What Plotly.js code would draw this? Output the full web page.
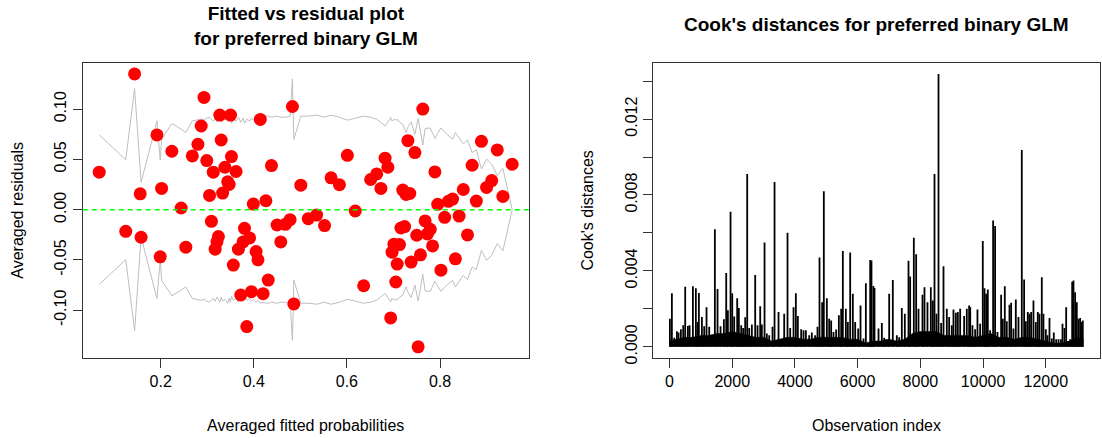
<!DOCTYPE html>
<html><head><meta charset="utf-8">
<script src="https://cdn.plot.ly/plotly-3.0.1.min.js"></script>
<style>html,body{margin:0;padding:0;background:#fff}#chart{width:1102px;height:438px}</style>
</head><body><div id="chart"></div>
<script>
// ---- Left panel: binned residual plot ----
const fittedProb = [0.068,0.125,0.144,0.156,0.158,0.192,0.199,0.202,0.224,0.244,0.254,0.268,0.280,0.287,0.293,0.299,0.305,0.309,0.313,0.317,0.321,0.324,0.327,0.330,0.333,0.338,0.344,0.347,0.350,0.352,0.356,0.362,0.367,0.372,0.377,0.380,0.385,0.391,0.395,0.399,0.405,0.409,0.414,0.420,0.426,0.431,0.438,0.450,0.458,0.468,0.478,0.483,0.486,0.501,0.517,0.535,0.552,0.566,0.584,0.601,0.618,0.636,0.651,0.664,0.673,0.682,0.688,0.694,0.697,0.701,0.705,0.708,0.713,0.716,0.720,0.724,0.727,0.731,0.735,0.738,0.746,0.750,0.753,0.758,0.763,0.768,0.773,0.779,0.784,0.789,0.795,0.802,0.810,0.818,0.827,0.833,0.841,0.850,0.859,0.869,0.878,0.889,0.900,0.911,0.923,0.935,0.955];
const avgResidual = [0.0373,-0.0215,0.135,0.0158,-0.0274,0.0743,-0.0469,0.0211,0.0581,0.0017,-0.0373,0.0535,0.065,0.0832,0.1116,0.0488,0.0142,-0.0116,0.0373,-0.0393,-0.0317,-0.0267,0.0941,0.0693,0.0165,0.0422,0.0277,0.0251,0.0941,0.0528,-0.0551,0.038,-0.0393,-0.0848,-0.032,-0.0185,-0.1162,-0.0281,-0.0815,0.0056,-0.0416,-0.0498,0.0898,-0.0835,0.0089,-0.07,0.0439,-0.0152,-0.032,-0.0145,-0.0099,0.1026,-0.0937,0.0244,-0.0089,-0.0053,-0.0158,0.0317,0.0248,0.0541,-0.0013,-0.0756,0.030,0.0356,0.0211,0.0512,0.0422,-0.1076,-0.0422,-0.0343,-0.0719,-0.0541,-0.0347,-0.0182,0.0195,-0.0168,0.0152,0.0686,0.0162,-0.0521,0.0568,-0.0254,-0.1363,-0.0449,0.100,-0.0112,-0.0241,-0.0195,-0.036,0.0376,0.0053,-0.0601,-0.0076,0.0083,0.0106,-0.0488,-0.0063,0.0201,-0.0251,0.0442,0.0086,0.068,0.0221,0.029,0.0594,0.0132,0.0452];
const bandHalfWidth = [0.0744,0.0496,0.1204,0.031,0.0272,0.0883,0.0496,0.0701,0.0857,0.080,0.0768,0.0883,0.089,0.090,0.089,0.091,0.092,0.090,0.088,0.091,0.087,0.089,0.092,0.087,0.091,0.089,0.093,0.088,0.092,0.086,0.090,0.088,0.092,0.087,0.091,0.086,0.090,0.088,0.091,0.089,0.092,0.090,0.093,0.092,0.093,0.093,0.092,0.093,0.092,0.092,0.093,0.130,0.070,0.093,0.093,0.094,0.092,0.094,0.092,0.089,0.091,0.093,0.092,0.090,0.0867,0.0833,0.087,0.0917,0.088,0.090,0.089,0.090,0.087,0.086,0.085,0.080,0.0768,0.082,0.085,0.0873,0.075,0.085,0.0907,0.078,0.0642,0.0807,0.081,0.0813,0.076,0.0708,0.076,0.0813,0.077,0.0734,0.0701,0.0768,0.071,0.0652,0.0694,0.0569,0.0595,0.0404,0.0503,0.0453,0.0337,0.041,0.000];
const residXTickVals = [0.2,0.4,0.6,0.8];
const residXTickText = ['0.2','0.4','0.6','0.8'];
const residYTickVals = [-0.10,-0.05,0.00,0.05,0.10];
const residYTickText = ['-0.10','-0.05','0.00','0.05','0.10'];

// ---- Right panel: Cook's distances ----
const nObs = 13200;
const cookIndex = [12,75,150,235,288,362,437,500,586,640,745,840,894,936,1032,1106,1180,1266,1350,1446,1531,1627,1733,1808,1861,1946,2000,2063,2158,2211,2286,2349,2413,2477,2541,2626,2732,2807,2892,2944,3030,3104,3178,
3284,3349,3476,3561,3657,3763,3848,3955,4029,4092,4198,4273,4348,4454,4538,4645,4719,4783,4868,4921,5017,5091,5155,5229,5314,5400,5474,5527,5623,5687,5761,5846,5921,6017,6091,6187,6261,6346,6399,
6440,6500,6537,6665,6771,6845,6909,7005,7121,7248,7323,7408,7504,7621,7674,7791,7865,7940,8067,8131,8226,8333,8397,8450,8514,8578,8662,8737,8843,8917,9002,9055,9130,9194,9268,9395,9480,9554,
9590,9661,9746,9820,9905,9990,10044,10097,10150,10224,10320,10383,10458,10575,10628,10692,10755,10841,10894,10968,11043,11128,11234,11308,11362,11425,11478,11532,11606,11681,11744,11798,11872,11925,12000,12053,12117,12191,12255,12330,12404,12478,12532,12595,12649,12723,12776,12840,12882,12935,12988,13041,13094,13147,13179];
const cookDistance = [0.00148,0.00282,0.00047,0.00082,0.00075,0.00092,0.00113,0.00317,0.0011,0.00113,0.00319,0.00308,0.00131,0.00284,0.00157,0.00108,0.00209,0.00105,0.00061,0.00619,0.00305,0.00108,0.00145,0.00389,0.00192,0.00711,0.00282,0.0016,0.00256,0.00204,0.00113,0.00099,0.00155,0.0091,0.00099,0.00117,0.00378,0.00113,0.00213,0.00117,0.00549,0.0007,0.00061,
0.00105,0.00868,0.00183,0.0003,0.00174,0.00601,0.00099,0.00209,0.00282,0.00162,0.00092,0.00087,0.00087,0.00061,0.00075,0.00061,0.00105,0.00471,0.00235,0.00819,0.00256,0.00148,0.00139,0.00078,0.00091,0.00166,0.002,0.00505,0.002,0.00131,0.00497,0.00279,0.00131,0.00096,0.00218,0.00044,0.00335,0.0002,0.00457,
0.00455,0.0032,0.0031,0.00096,0.00125,0.00047,0.0004,0.00279,0.00352,0.00061,0.0005,0.00204,0.00174,0.00453,0.00371,0.00575,0.00488,0.002,0.00274,0.00314,0.00235,0.00314,0.00244,0.0091,0.00174,0.01438,0.00125,0.00424,0.002,0.00157,0.00113,0.00197,0.0018,0.00183,0.002,0.00162,0.002,0.00218,
0.0021,0.00113,0.00092,0.00197,0.00122,0.00558,0.00308,0.00279,0.00302,0.00087,0.00666,0.00636,0.00078,0.00274,0.00148,0.00319,0.00134,0.00221,0.00232,0.00096,0.00249,0.00157,0.01037,0.00354,0.00134,0.00183,0.00174,0.00183,0.00244,0.00131,0.00183,0.00174,0.00366,0.00174,0.00092,0.00061,0.00152,0.00044,0.00075,0.0004,0.0004,0.0004,0.00122,0.00099,0.00209,0.0003,0.0004,0.00343,0.00349,0.00288,0.00235,0.00148,0.00152,0.00131,0.00139];
// dense lower band of small distances (upper edge of the solid black base)
const cookFloorIndex = [1,250,500,750,1000,1250,1500,1750,2000,2250,2500,2750,3000,3250,3500,3750,4000,4250,4500,4750,5000,5250,5500,5750,6000,6250,6500,6750,7000,7250,7500,7750,8000,8250,8500,8750,9000,9250,9500,9750,10000,10250,10500,10750,11000,11250,11500,11750,12000,12250,12500,12750,13000,13200];
const cookFloorValue = [0.0003,0.0004,0.0005,0.0005,0.0006,0.0006,0.0007,0.0007,0.0008,0.0007,0.0006,0.0005,0.0005,0.0003,0.0004,0.0005,0.0005,0.0004,0.0004,0.0005,0.0005,0.0005,0.0005,0.0004,0.0004,0.0002,0.0003,0.0003,0.0004,0.0003,0.0004,0.0007,0.0008,0.0008,0.0008,0.0006,0.0006,0.0006,0.0006,0.0005,0.0006,0.0007,0.0005,0.0005,0.0004,0.0005,0.0005,0.0004,0.0003,0.0002,0.0002,0.0003,0.0005,0.0004];
const cookXTickVals = [0,2000,4000,6000,8000,10000,12000];
const cookXTickText = ['0','2000','4000','6000','8000','10000','12000'];
const cookYTickVals = [0,0.002,0.004,0.006,0.008,0.010,0.012,0.014];
const cookYTickText = ['0.000','','0.004','','0.008','','0.012',''];

// ---- layout helpers ----
const W = 1102, H = 438;
const FONT = 'Liberation Sans, Arial, Helvetica, sans-serif';
function padRange(lo, hi) { const s = hi - lo; return [lo - 0.04 * s, hi + 0.04 * s]; }

const upper = bandHalfWidth.slice();
const lower = bandHalfWidth.map(v => -v);
const yAll = avgResidual.concat(upper, lower);
const residXRange = padRange(Math.min(...fittedProb), Math.max(...fittedProb));
const residYRange = padRange(Math.min(...yAll), Math.max(...yAll));
const cookXRange = padRange(1, nObs);
const cookYRange = padRange(0, Math.max(...cookDistance));

const spikeX = [], spikeY = [];
cookIndex.forEach((ix, k) => { spikeX.push(ix, ix, null); spikeY.push(0, cookDistance[k], null); });

const traces = [
  {x: fittedProb, y: upper, type: 'scatter', mode: 'lines', line: {color: '#BEBEBE', width: 1}, xaxis: 'x', yaxis: 'y', hoverinfo: 'skip'},
  {x: fittedProb, y: lower, type: 'scatter', mode: 'lines', line: {color: '#BEBEBE', width: 1}, xaxis: 'x', yaxis: 'y', hoverinfo: 'skip'},
  {x: fittedProb, y: avgResidual, type: 'scatter', mode: 'markers', marker: {color: '#FF0000', size: 13}, xaxis: 'x', yaxis: 'y'},
  {x: cookFloorIndex, y: cookFloorValue, type: 'scatter', mode: 'lines', fill: 'tozeroy', fillcolor: '#000', line: {color: '#000', width: 0.5}, xaxis: 'x2', yaxis: 'y2', hoverinfo: 'skip'},
  {x: spikeX, y: spikeY, type: 'scatter', mode: 'lines', line: {color: '#000', width: 1.8}, xaxis: 'x2', yaxis: 'y2', connectgaps: false}
];

const yDom = [1 - 357.7 / H, 1 - 63 / H];
const axisBase = {
  showgrid: false, zeroline: false, showline: true, mirror: true, linecolor: '#333', linewidth: 1,
  ticks: 'outside', ticklen: 9, tickwidth: 1, tickcolor: '#333',
  tickfont: {family: FONT, size: 16, color: '#000'}, automargin: false, fixedrange: true
};

const layout = {
  width: W, height: H, margin: {l: 0, r: 0, t: 0, b: 0},
  paper_bgcolor: '#fff', plot_bgcolor: '#fff', showlegend: false,
  font: {family: FONT, color: '#000'},
  xaxis: Object.assign({}, axisBase, {domain: [82.7 / W, 528.7 / W], range: residXRange, tickmode: 'array', tickvals: residXTickVals, ticktext: residXTickText, anchor: 'y',
    title: {text: 'Averaged fitted probabilities', font: {family: FONT, size: 16, color: '#000'}, standoff: 30}}),
  yaxis: Object.assign({}, axisBase, {domain: yDom, range: residYRange, tickmode: 'array', tickvals: residYTickVals, ticktext: residYTickText, tickangle: -90, anchor: 'x',
    title: {text: 'Averaged residuals', font: {family: FONT, size: 16, color: '#000'}, standoff: 24}}),
  xaxis2: Object.assign({}, axisBase, {domain: [653 / W, 1100 / W], range: cookXRange, tickmode: 'array', tickvals: cookXTickVals, ticktext: cookXTickText, anchor: 'y2',
    title: {text: 'Observation index', font: {family: FONT, size: 16, color: '#000'}, standoff: 30}}),
  yaxis2: Object.assign({}, axisBase, {domain: yDom, range: cookYRange, tickmode: 'array', tickvals: cookYTickVals, ticktext: cookYTickText, tickangle: -90, anchor: 'x2',
    title: {text: "Cook's distances", font: {family: FONT, size: 16, color: '#000'}, standoff: 24}}),
  shapes: [
    {type: 'line', xref: 'x domain', yref: 'y', x0: 0, x1: 1, y0: 0, y1: 0, line: {color: '#00FF00', width: 1.5, dash: '5px,4px'}}
  ],
  annotations: [
    {text: '<b>Fitted vs residual plot</b><br><b>for preferred binary GLM</b>', xref: 'paper', yref: 'paper', x: 305.7 / W, y: 1 - 25.5 / H, xanchor: 'center', yanchor: 'middle', showarrow: false, font: {family: FONT, size: 19, color: '#000'}},
    {text: "<b>Cook's distances for preferred binary GLM</b>", xref: 'paper', yref: 'paper', x: 876.5 / W, y: 1 - 25 / H, xanchor: 'center', yanchor: 'middle', showarrow: false, font: {family: FONT, size: 19, color: '#000'}}
  ]
};

Plotly.newPlot('chart', traces, layout, {staticPlot: true, displayModeBar: false});
</script>
</body></html>
